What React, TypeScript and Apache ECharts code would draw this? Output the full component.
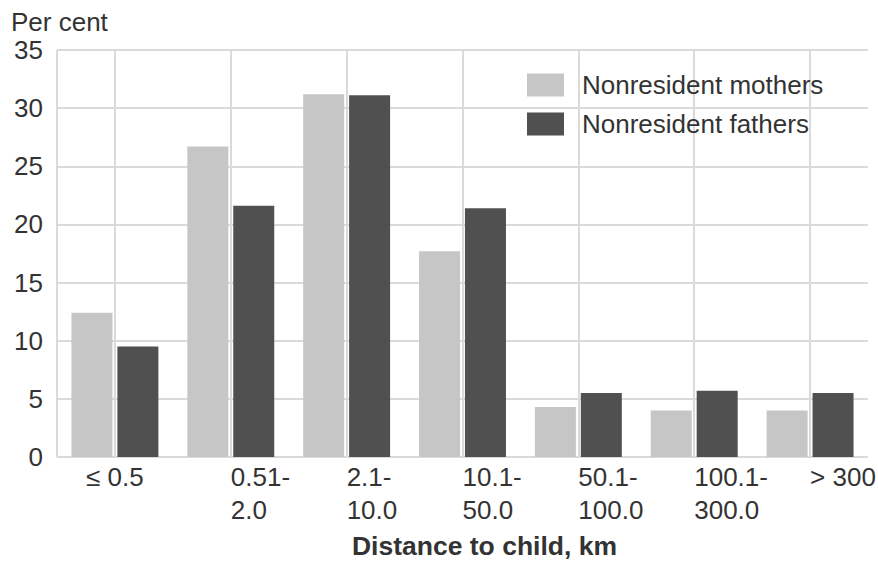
import React, { useEffect, useRef } from "react";
import * as echarts from "echarts";

const categories = ["≤ 0.5", "0.51-\n2.0", "2.1-\n10.0", "10.1-\n50.0", "50.1-\n100.0", "100.1-\n300.0", "> 300"];
const mothers = [12.4, 26.7, 31.2, 17.7, 4.3, 4.0, 4.0];
const fathers = [9.5, 21.6, 31.1, 21.4, 5.5, 5.7, 5.5];
const seriesNames = ["Nonresident mothers", "Nonresident fathers"];
const yTitle = "Per cent";
const xTitle = "Distance to child, km";

export default function App() {
  const ref = useRef<HTMLDivElement>(null);
  useEffect(() => {
    document.body.style.margin = "0";
    if (!ref.current) return;
    const chart = echarts.init(ref.current, null, { renderer: "svg" });
    const font = "'Liberation Sans', Arial, sans-serif";
    const textColor = "#333333";
    const gridColor = "#dadada";
    const gridLinePositions = Array.from({ length: categories.length * 2 + 1 }, (_, i) => String(i));
    chart.setOption({
      animation: false,
      textStyle: { fontFamily: font },
      title: {
        text: yTitle,
        left: 6,
        top: 4,
        textStyle: { fontSize: 26, fontWeight: "normal", color: textColor, fontFamily: font },
      },
      legend: {
        orient: "vertical",
        left: 522,
        top: 67,
        itemWidth: 37,
        itemHeight: 23,
        itemGap: 13,
        icon: "rect",
        data: seriesNames,
        textStyle: { fontSize: 26, color: textColor, fontFamily: font, padding: [0, 0, 0, 13] },
      },
      grid: {
        left: 57,
        right: 10,
        top: 50,
        bottom: 106,
        containLabel: false,
        outerBoundsMode: "none",
      },
      xAxis: [
        {
          type: "category",
          data: categories.map((c, i) =>
            i === 0 ? { value: c, textStyle: { align: "center" } } : c
          ),
          boundaryGap: true,
          axisLine: { show: false },
          axisTick: { show: false },
          splitLine: { show: false },
          axisLabel: {
            interval: 0,
            align: "left",
            fontSize: 26,
            lineHeight: 33,
            margin: 3,
            color: textColor,
            fontFamily: font,
          },
          name: xTitle,
          nameLocation: "middle",
          nameGap: 75,
          nameMoveOverlap: false,
          nameTextStyle: {
            fontSize: 26.5,
            fontWeight: "bold",
            color: textColor,
            fontFamily: font,
            padding: [0, 0, 0, 44],
          },
        },
        {
          type: "category",
          data: gridLinePositions,
          boundaryGap: false,
          position: "bottom",
          axisLine: { show: false },
          axisTick: { show: false },
          axisLabel: { show: false },
          splitLine: {
            show: true,
            interval: (i: number) => i === 0 || i % 2 === 1,
            lineStyle: { color: gridColor, width: 2 },
          },
          z: 0,
        },
      ],
      yAxis: {
        type: "value",
        min: 0,
        max: 35,
        interval: 5,
        axisLine: { show: false },
        axisTick: { show: false },
        axisLabel: { fontSize: 26, color: textColor, margin: 14, fontFamily: font },
        splitLine: { show: true, lineStyle: { color: gridColor, width: 2 } },
      },
      series: [
        {
          name: seriesNames[0],
          type: "bar",
          xAxisIndex: 0,
          data: mothers,
          barWidth: 41,
          barGap: "12%",
          itemStyle: { color: "#c6c6c6" },
          z: 3,
        },
        {
          name: seriesNames[1],
          type: "bar",
          xAxisIndex: 0,
          data: fathers,
          barWidth: 41,
          barGap: "12%",
          itemStyle: { color: "#505050" },
          z: 3,
        },
      ],
    });
    return () => chart.dispose();
  }, []);
  return <div ref={ref} style={{ width: 878, height: 563 }} />;
}
